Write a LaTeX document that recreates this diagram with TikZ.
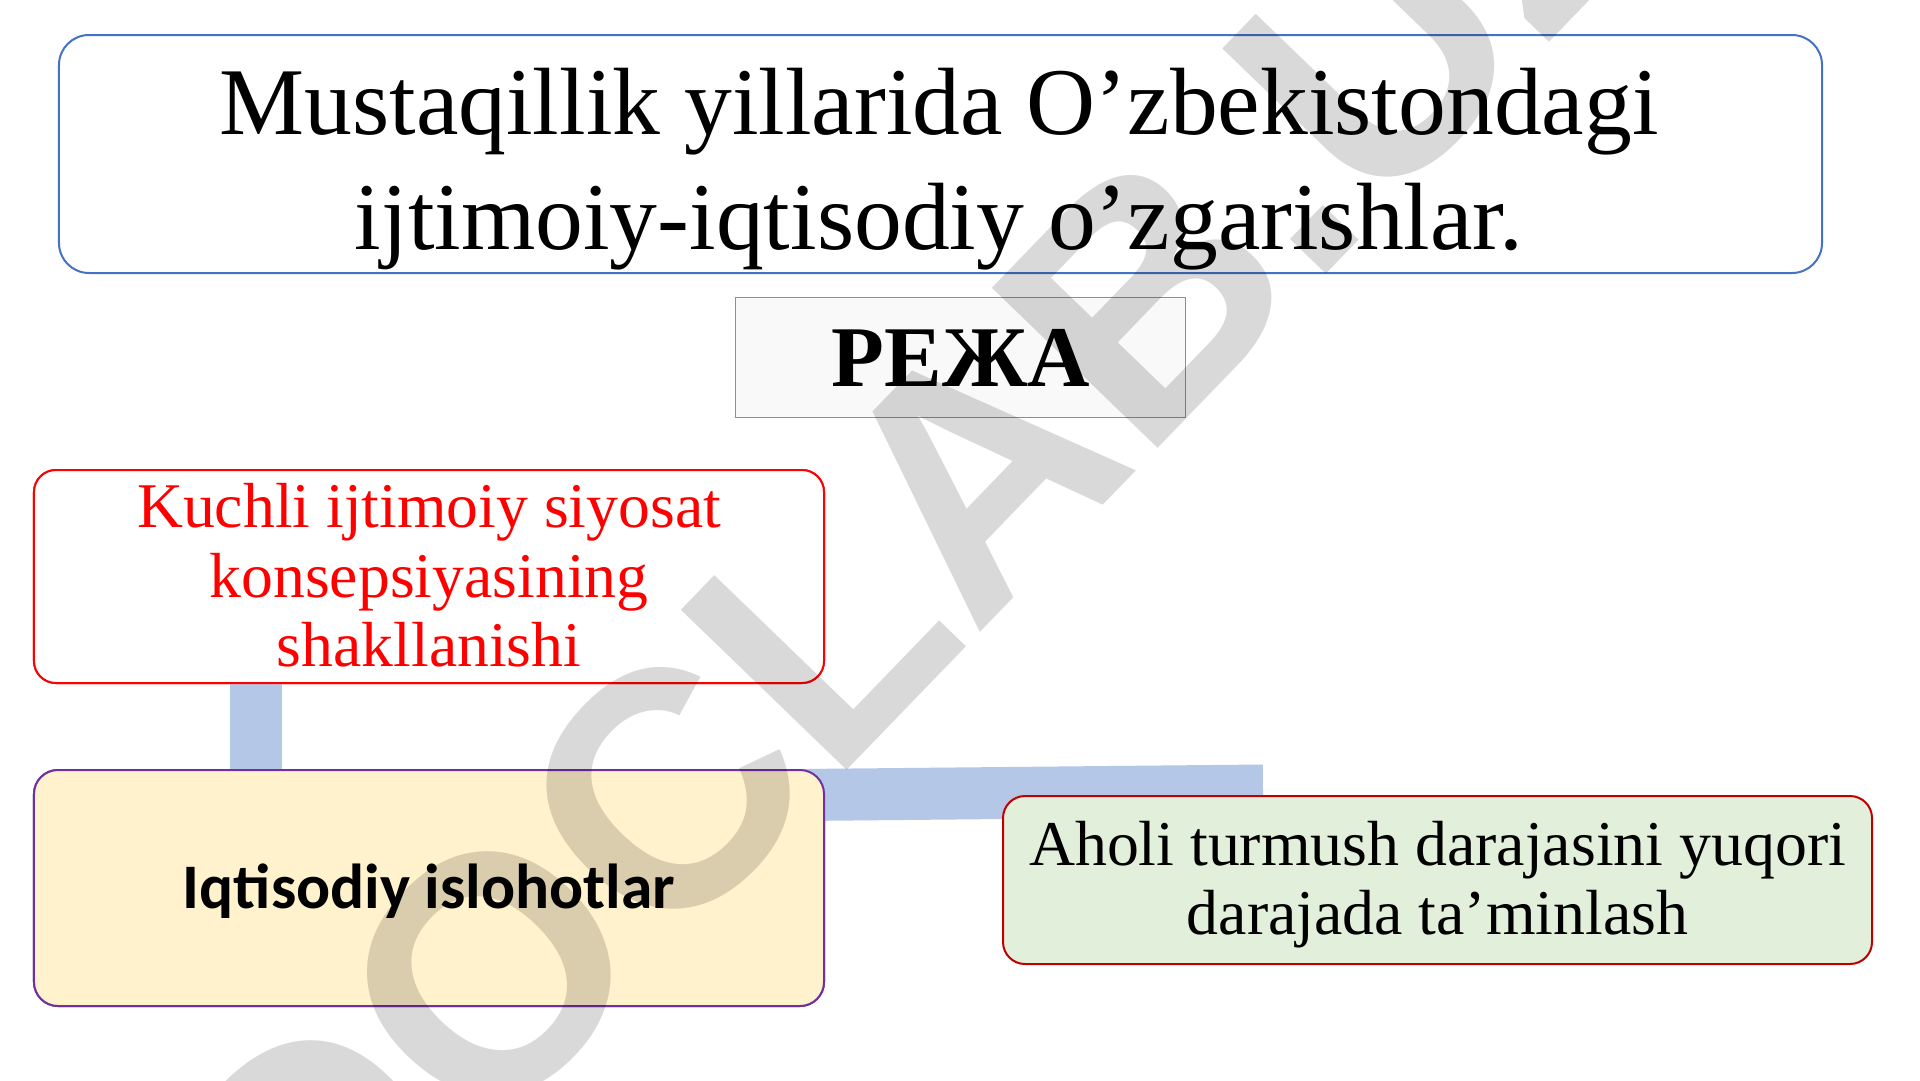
\documentclass[tikz,border=0pt]{standalone}
\usepackage{fontspec}
\setmainfont{Liberation Serif}
\newfontfamily\carlito{Carlito}
\newfontfamily\wmfont{Liberation Sans}
\definecolor{titleblue}{HTML}{4472C4}
\definecolor{rejagreen}{HTML}{70AD47}
\definecolor{rejafill}{HTML}{F9F9F9}
\definecolor{boxred}{HTML}{FF0000}
\definecolor{boxpurple}{HTML}{7030A0}
\definecolor{boxyellow}{HTML}{FFF2CC}
\definecolor{boxdarkred}{HTML}{C00000}
\definecolor{boxgreen}{HTML}{E2EFDA}
\definecolor{barblue}{HTML}{B4C7E7}
\definecolor{wmgray}{HTML}{D9D9D9}
\tikzset{
  shapebox/.style={rectangle, inner sep=0pt, outer sep=0pt},
  titlebox/.style={shapebox, draw=titleblue, fill=white, line width=2bp, rounded corners=30bp, minimum width=1763bp, minimum height=238bp},
  rejabox/.style={shapebox, draw=rejagreen, fill=rejafill, line width=1bp, minimum width=450bp, minimum height=120bp},
  redbox/.style={shapebox, draw=boxred, fill=white, line width=2bp, rounded corners=22bp, minimum width=790bp, minimum height=213bp},
  yellowbox/.style={shapebox, draw=boxpurple, fill=boxyellow, line width=2bp, rounded corners=24bp, minimum width=790bp, minimum height=236bp},
  greenbox/.style={shapebox, draw=boxdarkred, fill=boxgreen, line width=2bp, rounded corners=22bp, minimum width=869bp, minimum height=168bp},
  txt/.style={inner sep=0pt, outer sep=0pt, anchor=base},
  titletxt/.style={txt, font=\fontsize{95.6bp}{115bp}\selectfont},
  rejatxt/.style={txt, font=\fontsize{86.5bp}{100bp}\selectfont\bfseries},
  redtxt/.style={txt, text=boxred, font=\fontsize{63.7bp}{69bp}\selectfont},
  greentxt/.style={txt, font=\fontsize{63.8bp}{69bp}\selectfont},
  yellowtxt/.style={txt, font=\carlito\fontsize{63.5bp}{70bp}\selectfont\bfseries},
  bar/.style={draw=barblue, line width=52bp, line cap=butt},
  wm/.style={inner sep=0pt, text=wmgray, font=\wmfont\fontsize{335bp}{340bp}\selectfont\bfseries}
}
\begin{document}
\begin{tikzpicture}[x=1bp,y=-1bp]
\useasboundingbox (0,0) rectangle (1920,1080);
\fill[white] (0,0) rectangle (1920,1080);

% boxes
\node[titlebox] (title) at (940.5,154) {};
\node[rejabox] (reja) at (960,357) {};

% connectors (behind the lower boxes)
\coordinate (hbL) at (800,795);
\coordinate (hbR) at (1263,790.5);
\node[redbox] (redpos) at (429,576.5) {};
\node[yellowbox] (yellowpos) at (429,888) {};
\draw[bar] ([xshift=222bp]redpos.south west) -- ([xshift=222bp]yellowpos.north west);
\draw[bar] (hbL) -- (hbR);
\node[redbox] (red) at (429,576.5) {};
\node[yellowbox] (yellow) at (429,888) {};
\node[greenbox] (green) at (1437.5,880) {};

% texts
\node[titletxt] (t1) at (939,134) {Mustaqillik yillarida O’zbekistondagi};
\node[titletxt] (t2) at (939,249) {ijtimoiy-iqtisodiy o’zgarishlar.};
\node[rejatxt] (rt) at (961,386) {РЕЖА};
\node[redtxt] (r1) at (429,527) {Kuchli ijtimoiy siyosat};
\node[redtxt] (r2) at (429,597) {konsepsiyasining};
\node[redtxt] (r3) at (429,666) {shakllanishi};
\node[yellowtxt] (y1) at (429,908) {Iqtisodiy islohotlar};
\node[greentxt] (g1) at (1437.5,865) {Aholi turmush darajasini yuqori};
\node[greentxt] (g2) at (1437.5,934) {darajada ta’minlash};

% watermark
\begin{scope}[blend mode=multiply]
\node[wm, rotate=46] (wmark) at (917,532) {DOCLAB.UZ};
\end{scope}
\end{tikzpicture}
\end{document}
